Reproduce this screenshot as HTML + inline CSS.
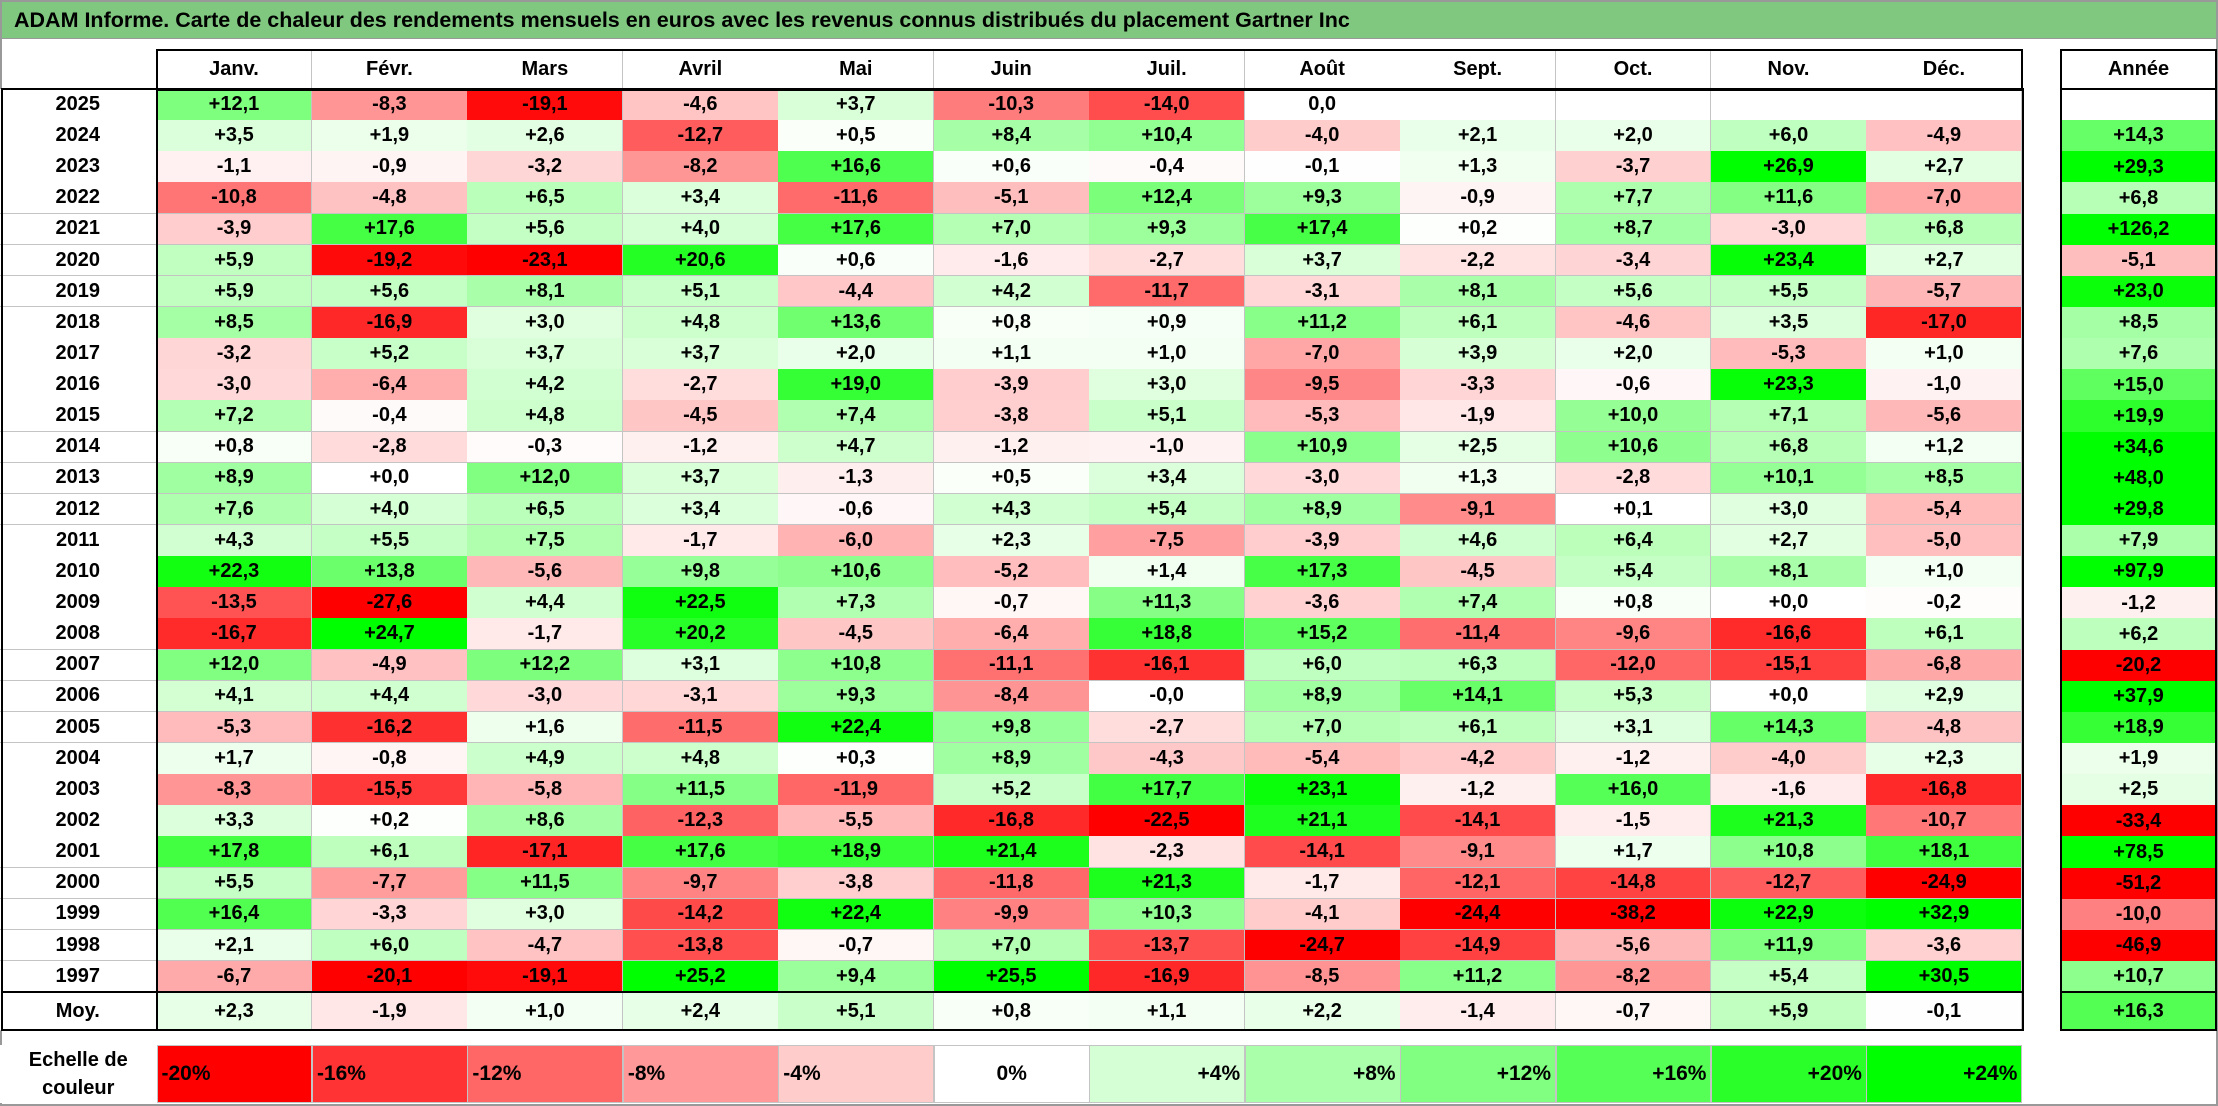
<!DOCTYPE html>
<html><head><meta charset="utf-8">
<style>
body{margin:0;width:2218px;height:1106px;overflow:hidden;background:#fff;font-family:"Liberation Sans",sans-serif;}
#root{position:relative;width:2218px;height:1106px;}
.c{position:absolute;box-sizing:border-box;display:flex;align-items:center;justify-content:center;font-weight:bold;font-size:20px;color:#000;}
.g{border-right:1px solid #c4c4c4;border-bottom:1px solid #c4c4c4;}
.box{position:absolute;box-sizing:border-box;border:2px solid #000;pointer-events:none;}
.hl{position:absolute;height:2px;background:#000;}
.vl{position:absolute;width:2px;background:#000;}
</style></head>
<body>
<div id="root">
<div style="position:absolute;left:0;top:0;width:2218px;height:1106px;box-sizing:border-box;border:2px solid #999;"></div>
<div style="position:absolute;left:2px;top:2px;width:2214px;height:37px;background:#80c880;border-bottom:1px solid #999;box-sizing:border-box;display:flex;align-items:center;padding-left:12px;font-weight:bold;font-size:21.5px;">ADAM Informe. Carte de chaleur des rendements mensuels en euros avec les revenus connus distribués du placement Gartner Inc</div>
</div>
<script>
const months=["Janv.","Févr.","Mars","Avril","Mai","Juin","Juil.","Août","Sept.","Oct.","Nov.","Déc."];
const years=["2025","2024","2023","2022","2021","2020","2019","2018","2017","2016","2015","2014","2013","2012","2011","2010","2009","2008","2007","2006","2005","2004","2003","2002","2001","2000","1999","1998","1997"];
const monthly=[
[12.1,-8.3,-19.1,-4.6,3.7,-10.3,-14.0,0.0,null,null,null,null],
[3.5,1.9,2.6,-12.7,0.5,8.4,10.4,-4.0,2.1,2.0,6.0,-4.9],
[-1.1,-0.9,-3.2,-8.2,16.6,0.6,-0.4,-0.1,1.3,-3.7,26.9,2.7],
[-10.8,-4.8,6.5,3.4,-11.6,-5.1,12.4,9.3,-0.9,7.7,11.6,-7.0],
[-3.9,17.6,5.6,4.0,17.6,7.0,9.3,17.4,0.2,8.7,-3.0,6.8],
[5.9,-19.2,-23.1,20.6,0.6,-1.6,-2.7,3.7,-2.2,-3.4,23.4,2.7],
[5.9,5.6,8.1,5.1,-4.4,4.2,-11.7,-3.1,8.1,5.6,5.5,-5.7],
[8.5,-16.9,3.0,4.8,13.6,0.8,0.9,11.2,6.1,-4.6,3.5,-17.0],
[-3.2,5.2,3.7,3.7,2.0,1.1,1.0,-7.0,3.9,2.0,-5.3,1.0],
[-3.0,-6.4,4.2,-2.7,19.0,-3.9,3.0,-9.5,-3.3,-0.6,23.3,-1.0],
[7.2,-0.4,4.8,-4.5,7.4,-3.8,5.1,-5.3,-1.9,10.0,7.1,-5.6],
[0.8,-2.8,-0.3,-1.2,4.7,-1.2,-1.0,10.9,2.5,10.6,6.8,1.2],
[8.9,0.0,12.0,3.7,-1.3,0.5,3.4,-3.0,1.3,-2.8,10.1,8.5],
[7.6,4.0,6.5,3.4,-0.6,4.3,5.4,8.9,-9.1,0.1,3.0,-5.4],
[4.3,5.5,7.5,-1.7,-6.0,2.3,-7.5,-3.9,4.6,6.4,2.7,-5.0],
[22.3,13.8,-5.6,9.8,10.6,-5.2,1.4,17.3,-4.5,5.4,8.1,1.0],
[-13.5,-27.6,4.4,22.5,7.3,-0.7,11.3,-3.6,7.4,0.8,0.0,-0.2],
[-16.7,24.7,-1.7,20.2,-4.5,-6.4,18.8,15.2,-11.4,-9.6,-16.6,6.1],
[12.0,-4.9,12.2,3.1,10.8,-11.1,-16.1,6.0,6.3,-12.0,-15.1,-6.8],
[4.1,4.4,-3.0,-3.1,9.3,-8.4,-0.0,8.9,14.1,5.3,0.0,2.9],
[-5.3,-16.2,1.6,-11.5,22.4,9.8,-2.7,7.0,6.1,3.1,14.3,-4.8],
[1.7,-0.8,4.9,4.8,0.3,8.9,-4.3,-5.4,-4.2,-1.2,-4.0,2.3],
[-8.3,-15.5,-5.8,11.5,-11.9,5.2,17.7,23.1,-1.2,16.0,-1.6,-16.8],
[3.3,0.2,8.6,-12.3,-5.5,-16.8,-22.5,21.1,-14.1,-1.5,21.3,-10.7],
[17.8,6.1,-17.1,17.6,18.9,21.4,-2.3,-14.1,-9.1,1.7,10.8,18.1],
[5.5,-7.7,11.5,-9.7,-3.8,-11.8,21.3,-1.7,-12.1,-14.8,-12.7,-24.9],
[16.4,-3.3,3.0,-14.2,22.4,-9.9,10.3,-4.1,-24.4,-38.2,22.9,32.9],
[2.1,6.0,-4.7,-13.8,-0.7,7.0,-13.7,-24.7,-14.9,-5.6,11.9,-3.6],
[-6.7,-20.1,-19.1,25.2,9.4,25.5,-16.9,-8.5,11.2,-8.2,5.4,30.5]
];
const annual=[null,14.3,29.3,6.8,126.2,-5.1,23.0,8.5,7.6,15.0,19.9,34.6,48.0,29.8,7.9,97.9,-1.2,6.2,-20.2,37.9,18.9,1.9,2.5,-33.4,78.5,-51.2,-10.0,-46.9,10.7];
const averages=[2.3,-1.9,1.0,2.4,5.1,0.8,1.1,2.2,-1.4,-0.7,5.9,-0.1];
const averageYear=16.3;
const scaleTicks=[-20,-16,-12,-8,-4,0,4,8,12,16,20,24];
const unsignedZero=[[0,7]];

const root=document.getElementById('root');
const X0=156.5,CW=155.45,Y0=89,RH=31.14,AX=2061,AW=155;
function colX(i){return X0+i*CW;}
function rowY(r){return Y0+r*RH;}
function color(v){
  if(v===null)return '#fff';
  if(v<0){const t=Math.min(-v/20,1);const k=Math.round(255*(1-t));return `rgb(255,${k},${k})`;}
  const t=Math.min(v/24,1);const k=Math.round(255*(1-t));return `rgb(${k},255,${k})`;
}
function fmt(v,plain){
  if(v===null)return '';
  const s=Math.abs(v).toFixed(1).replace('.',',');
  if(plain)return s;
  const neg=v<0||Object.is(v,-0);
  return (neg?'-':'+')+s;
}
function cell(x,y,w,h,txt,bg,cls){
  const d=document.createElement('div');
  d.className='c '+(cls||'');
  d.style.left=x+'px';d.style.top=y+'px';d.style.width=w+'px';d.style.height=h+'px';
  d.style.background=bg||'#fff';
  d.textContent=txt;
  root.appendChild(d);return d;
}
// headers
months.forEach((m,i)=>{
  const d=cell(colX(i),50,CW+0.5,39,m,'#fff','g');
  
  
});
{const d=cell(AX,50,AW,39,'Année','#fff');

}
// body
years.forEach((yr,r)=>{
  const y=rowY(r);
  const yc=cell(0,y,X0,RH+0.5,yr,'#fff','g');
  
  
  monthly[r].forEach((v,i)=>{
    const plain=unsignedZero.some(p=>p[0]===r&&p[1]===i);
    const d=cell(colX(i),y,CW+0.5,RH+0.5,fmt(v,plain),color(v),'g');
    
    
  });
  const a=cell(AX,y,AW,RH+0.5,fmt(annual[r]),color(annual[r]));
  
  
});
// averages
const MY=992,MH=39;
{const d=cell(0,MY,X0,MH,'Moy.','#fff','g');

}
averages.forEach((v,i)=>{
  const d=cell(colX(i),MY,CW+0.5,MH,fmt(v),color(v),'g');
  
  
});
{const d=cell(AX,MY,AW,MH,fmt(averageYear),color(averageYear));

}
// legend
{const d=cell(0,1045,X0,58,'','#fff');
d.innerHTML='Echelle de<br>couleur';d.style.textAlign='center';d.style.lineHeight='28px';

}
scaleTicks.forEach((t,i)=>{
  const txt=(t>0?'+':'')+t+'%';
  const d=cell(colX(i),1045,CW+0.5,58,txt,color(t),'');
  d.style.border='1px solid #c4c4c4';
  d.style.justifyContent=t<0?'flex-start':(t===0?'center':'flex-end');
  d.style.padding='0 4px';
  d.style.fontSize='21px';
  
  
});
// borders
function box(x,y,w,h,name){const b=document.createElement('div');b.className='box';
b.style.left=x+'px';b.style.top=y+'px';b.style.width=w+'px';b.style.height=h+'px';


root.appendChild(b);}
box(X0-1,49,2022-X0+2,42,'header-border');
box(1,88,2023,1031-88,'body-border');
box(AX-1,49,AW+2,1031-49,'annual-border');
function hl(x,y,w,name){const b=document.createElement('div');b.className='hl';b.style.left=x+'px';b.style.top=y+'px';b.style.width=w+'px';


root.appendChild(b);}
function vl(x,y,h,name){const b=document.createElement('div');b.className='vl';b.style.left=x+'px';b.style.top=y+'px';b.style.height=h+'px';


root.appendChild(b);}
hl(1,MY-1,2023,'average-separator');
vl(X0-1,88,1031-88,'year-column-separator');
hl(AX-1,88,AW+2,'annual-header-separator');
hl(AX-1,MY-1,AW+2,'annual-average-separator');
</script>
</body></html>
